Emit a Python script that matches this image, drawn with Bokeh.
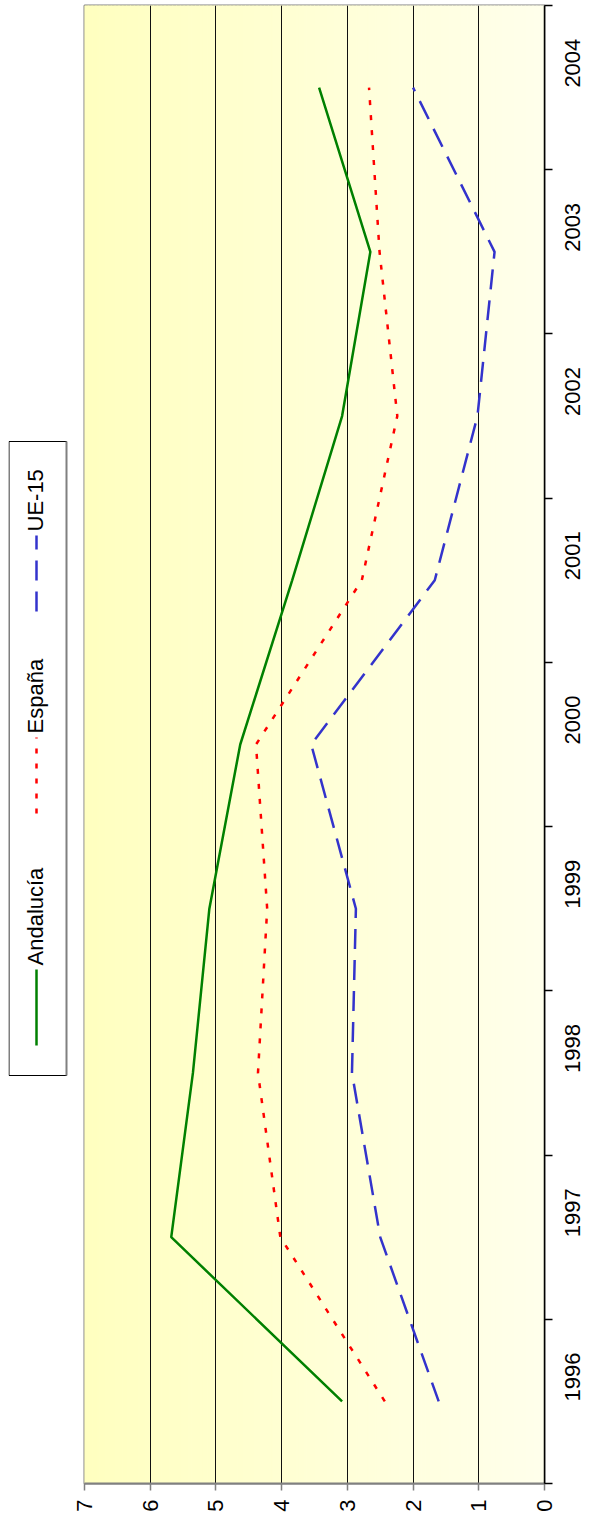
import numpy as np
from bokeh.plotting import figure
from bokeh.models import Range1d, FixedTicker, CustomJSTickFormatter
from bokeh.layouts import row
from bokeh.embed import file_html
from bokeh.resources import INLINE
from bokeh.core.properties import value

# ---- data ----
years = ["1996", "1997", "1998", "1999", "2000", "2001", "2002", "2003", "2004"]
andalucia = [3.08, 5.68, 5.35, 5.10, 4.63, 3.84, 3.08, 2.65, 3.43]
espana = [2.43, 4.02, 4.36, 4.22, 4.39, 2.78, 2.24, 2.51, 2.67]
ue15 = [1.61, 2.50, 2.93, 2.87, 3.55, 1.67, 1.02, 0.76, 2.00]
series_names = ["Andalucía", "España", "UE-15"]
value_ticks = [0, 1, 2, 3, 4, 5, 6, 7]

FONT = "Liberation Sans"
FS = "22px"
FRAME_W, FRAME_H = 460, 1478
TOP = 5

green, red, blue = "#008000", "#FF0000", "#3333CC"
dash_es, dash_ue = "5 10", "20 11"

n = len(years)
ypos = np.arange(n) + 0.5

# ---- main chart (rotated: values horizontal, years vertical) ----
p = figure(frame_width=FRAME_W, frame_height=FRAME_H,
           x_range=Range1d(max(value_ticks), min(value_ticks)),
           y_range=Range1d(0, n),
           output_backend="svg", toolbar_location=None,
           y_axis_location="right",
           min_border_left=14, min_border_top=TOP, min_border_right=0, min_border_bottom=0,
           border_fill_color="white", background_fill_color="white",
           outline_line_color="#808080", outline_line_width=2)

# gradient background
N = 120
edges = np.linspace(min(value_ticks), max(value_ticks), N + 1)
mids = (edges[:-1] + edges[1:]) / 2
t = mids / max(value_ticks)
b = (236 - t * (236 - 192)).astype(int)
cols = ["#%02x%02x%02x" % (255, 255, bb) for bb in b]
p.quad(left=edges[:-1], right=edges[1:], bottom=0, top=n,
       fill_color=cols, line_color=cols, line_width=1, level="image")

p.xgrid.ticker = FixedTicker(ticks=value_ticks)
p.xgrid.grid_line_color = "#111111"
p.xgrid.grid_line_width = 1
p.ygrid.grid_line_color = None

p.line(andalucia, ypos, line_color=green, line_width=2.5)
p.line(espana, ypos, line_color=red, line_width=2.5, line_dash=dash_es)
p.line(ue15, ypos, line_color=blue, line_width=2.5, line_dash=dash_ue)

xa = p.xaxis[0]
xa.ticker = FixedTicker(ticks=value_ticks)
xa.major_label_orientation = np.pi / 2
xa.major_tick_out = 7
xa.major_tick_in = 0
xa.minor_tick_line_color = None
xa.axis_line_color = "#808080"
xa.axis_line_width = 2
xa.major_tick_line_color = "#808080"
xa.major_tick_line_width = 1.5
xa.major_label_text_font = FONT
xa.major_label_text_font_size = FS
xa.major_label_text_color = "black"
xa.major_label_standoff = 9

ya = p.yaxis[0]
ya.ticker = FixedTicker(ticks=list(ypos), minor_ticks=list(range(n + 1)))
ya.formatter = CustomJSTickFormatter(args=dict(labels=years),
                                     code="return labels[Math.floor(tick)] || '';")
ya.major_label_orientation = np.pi / 2
ya.major_tick_out = 0
ya.major_tick_in = 0
ya.major_tick_line_color = None
ya.minor_tick_out = 8
ya.minor_tick_in = 0
ya.minor_tick_line_color = "black"
ya.minor_tick_line_width = 1.5
ya.axis_line_color = "black"
ya.axis_line_width = 1.5
ya.major_label_text_font = FONT
ya.major_label_text_font_size = FS
ya.major_label_text_color = "black"
ya.major_label_standoff = 20

# ---- legend (rotated) ----
LW = 62
leg = figure(frame_width=LW, frame_height=FRAME_H,
             x_range=Range1d(0, LW), y_range=Range1d(FRAME_H, 0),
             output_backend="svg", toolbar_location=None,
             x_axis_location=None, y_axis_location=None,
             min_border_left=8, min_border_top=TOP, min_border_right=0, min_border_bottom=0,
             outline_line_color=None,
             border_fill_color="white", background_fill_color="white")
leg.grid.visible = False

box_l, box_r, box_t, box_b = 0.5, 58, 436, 1070
leg.quad(left=box_l, right=box_r, top=box_t, bottom=box_b,
         fill_color="white", line_color="black", line_width=1)
leg.line([box_r, box_r], [box_t, box_b], line_color="#808080", line_width=2)

line_x, text_x = 28, 27
item_start = [1040, 808, 606]
sample_len = 76
styles = [(green, "solid"), (red, dash_es), (blue, dash_ue)]
for name, y0, (c, d) in zip(series_names, item_start, styles):
    leg.line([line_x, line_x], [y0, y0 - sample_len], line_color=c, line_width=2.5, line_dash=d)
leg.text(x=[text_x] * 3, y=[y0 - sample_len - 4 for y0 in item_start], text=series_names,
         angle=np.pi / 2, text_align="left", text_baseline="middle",
         text_font=value(FONT), text_font_size=FS, text_color="black")

layout = row(leg, p)
open("out.html", "w").write(file_html(layout, INLINE))
